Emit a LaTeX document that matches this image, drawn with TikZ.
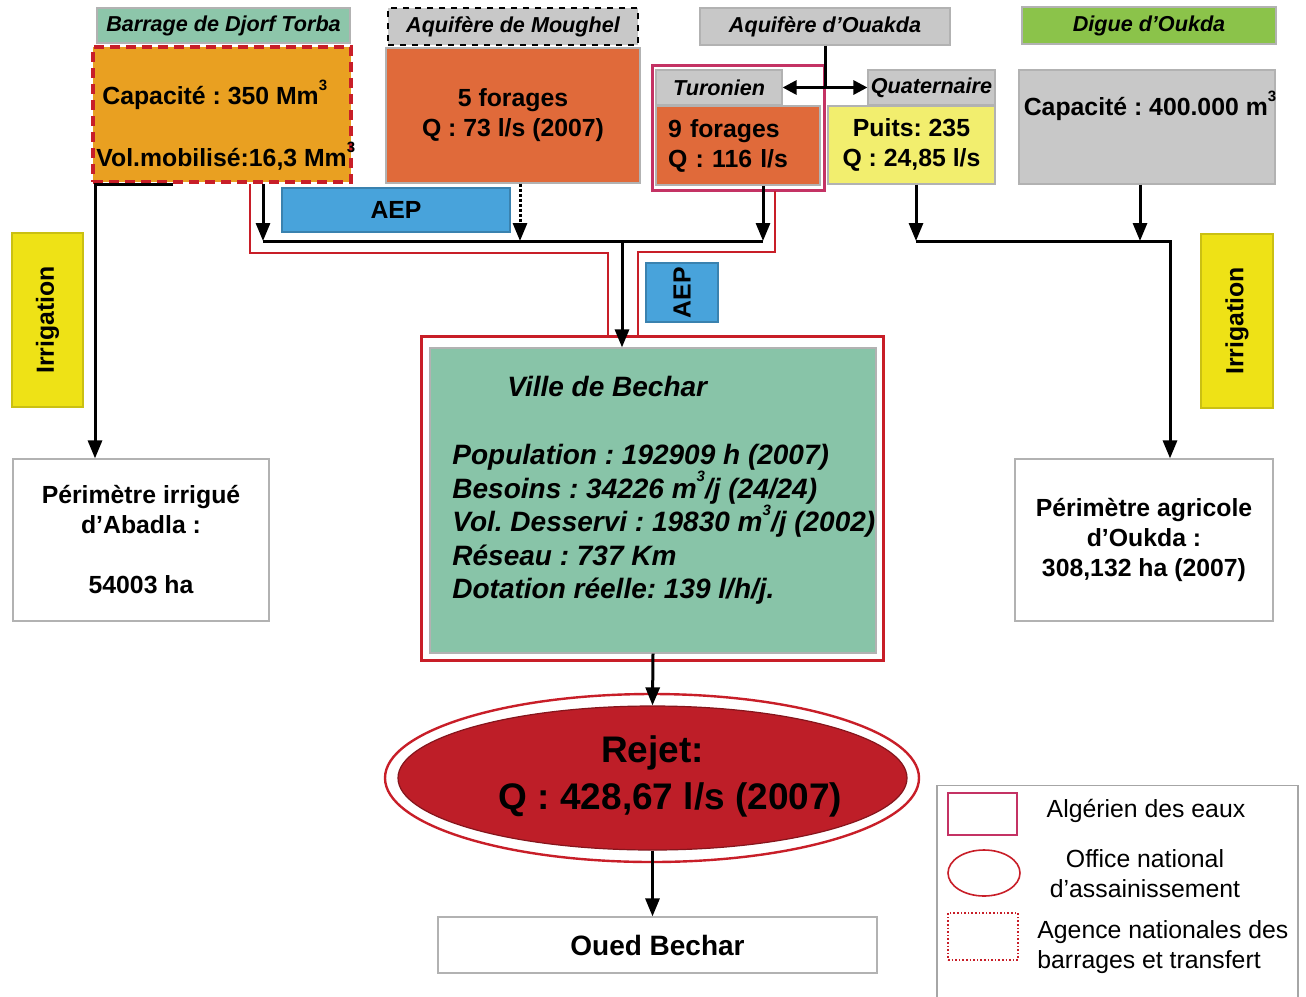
\documentclass[tikz,border=0pt]{standalone}
\usepackage{fontspec}
\setmainfont{Liberation Sans}
\usetikzlibrary{shapes.geometric, arrows.meta}
\frenchspacing

\definecolor{headteal}{RGB}{141,198,170}
\definecolor{cityteal}{RGB}{136,196,168}
\definecolor{headgray}{RGB}{200,200,200}
\definecolor{gold}{RGB}{233,160,33}
\definecolor{forange}{RGB}{224,106,58}
\definecolor{qyellow}{RGB}{242,238,110}
\definecolor{irryellow}{RGB}{238,226,22}
\definecolor{digreen}{RGB}{139,195,74}
\definecolor{aepblue}{RGB}{72,163,219}
\definecolor{anbtred}{RGB}{200,30,40}
\definecolor{adepink}{RGB}{196,50,100}
\definecolor{rejetred}{RGB}{190,30,40}

\newcommand{\txtbody}{\fontsize{12.4pt}{15pt}\selectfont\bfseries}
\newcommand{\txthead}{\fontsize{10.8pt}{13pt}\selectfont\bfseries\itshape}
\newcommand{\txtcity}{\fontsize{14pt}{16.75pt}\selectfont\bfseries\itshape}
\newcommand{\txtoued}{\fontsize{14pt}{16.75pt}\selectfont\bfseries}
\newcommand{\txtrejet}{\fontsize{18.5pt}{23.5pt}\selectfont\bfseries}
\newcommand{\txtlegend}{\fontsize{12.4pt}{15pt}\selectfont}
\newcommand{\cubed}{\raisebox{1.1ex}{\fontsize{7.5pt}{7.5pt}\selectfont 3}}

\begin{document}
\begin{tikzpicture}[x=0.5pt,y=-0.5pt,
  box/.style={draw=black!30, line width=0.6pt, inner sep=0pt, font=\txtbody, align=center},
  head/.style={box, font=\txthead},
  line/.style={line width=1.5pt},
  flow/.style={line, -{Triangle[length=9pt,width=7pt]}},
  twoway/.style={line, {Triangle[length=7pt,width=7pt]}-{Triangle[length=7pt,width=7pt]}},
  redline/.style={draw=anbtred, line width=1.2pt}]
\path[use as bounding box, fill=white] (0,0) rectangle (1306,996);

\node[head, fill=headteal, minimum width=126.5pt, minimum height=17.5pt] (barhead) at (223.5,25.5) {Barrage de Djorf Torba};
\node[box, fill=gold, draw=anbtred, dash pattern=on 5pt off 3pt, line width=2pt, minimum width=129pt, minimum height=67.5pt] (barbox) at (222,114.5) {};
\node[font=\txtbody, align=left, anchor=west, inner sep=0pt] (bartext) at (96,125) {\hspace*{3pt}Capacité : 350 Mm\cubed\\[15pt]Vol.mobilisé:16,3 Mm\cubed};

\node[head, fill=headgray, draw=black, dashed, line width=1.2pt, minimum width=125pt, minimum height=18.5pt] (mouhead) at (513,26.5) {Aquifère de Moughel};
\node[box, fill=forange, minimum width=127pt, minimum height=67.5pt] (moubox) at (513,115.5) {5 forages\\Q : 73 l/s (2007)};

\node[head, fill=headgray, minimum width=125pt, minimum height=18.5pt] (ouahead) at (825,26.5) {Aquifère d'Ouakda};
\node[draw=adepink, line width=1.5pt, minimum width=86pt, minimum height=62.5pt] (adeframe) at (738,127.5) {};
\node[head, fill=headgray, minimum width=63pt, minimum height=17.5pt] (turhead) at (719,87.5) {Turonien};
\node[box, fill=forange, minimum width=82pt, minimum height=39.5pt, text width=70pt, align=left] (turbox) at (738,145.5) {9 forages\\Q : 116 l/s};
\node[head, fill=headgray, minimum width=63.5pt, minimum height=17.5pt] (quahead) at (931.5,87.5) {Quaternaire};
\node[box, fill=qyellow, minimum width=83.5pt, minimum height=39pt] (quabox) at (911.5,145) {Puits: 235\\Q : 24,85 l/s};

\node[head, fill=digreen, minimum width=127pt, minimum height=18.5pt] (dighead) at (1149,25.5) {Digue d'Oukda};
\node[box, fill=headgray, minimum width=128pt, minimum height=57pt] (digbox) at (1147,127) {};
\node[font=\txtbody, inner sep=0pt] (digtext) at (1150,106) {Capacité : 400.000 m\cubed};

\node[box, fill=irryellow, draw=irryellow!85!black, minimum width=87pt, minimum height=35.5pt, rotate=90] (irrleft) at (47.5,320) {Irrigation};
\node[box, fill=irryellow, draw=irryellow!85!black, minimum width=87pt, minimum height=36pt, rotate=90] (irrright) at (1237,321) {Irrigation};
\node[box, fill=aepblue, draw=aepblue!80!black, minimum width=114pt, minimum height=22pt] (aepone) at (396,210) {AEP};
\node[box, fill=aepblue, draw=aepblue!80!black, minimum width=29.5pt, minimum height=36pt, rotate=90] (aeptwo) at (682,292.5) {AEP};

\node[draw=anbtred, line width=1.5pt, minimum width=231pt, minimum height=162pt] (cityframe) at (652,498) {};
\node[box, fill=cityteal, minimum width=223pt, minimum height=152.5pt] (city) at (653,500.5) {};
\node[font=\txtcity, align=left, anchor=north west, inner sep=0pt] (citytext) at (452,376) {\hspace*{27.5pt}Ville de Bechar\\[17.25pt]Population : 192909 h (2007)\\Besoins : 34226 m\cubed/j (24/24)\\Vol. Desservi : 19830 m\cubed/j (2002)\\Réseau : 737 Km\\Dotation réelle: 139 l/h/j.};

\node[ellipse, draw=anbtred, line width=1.2pt, minimum width=267pt, minimum height=84pt] (rejetframe) at (652,778) {};
\node[ellipse, fill=rejetred, draw=rejetred!70!black, line width=0.6pt, minimum width=254.5pt, minimum height=72pt] (rejet) at (652.5,778) {};
\node[font=\txtrejet, align=center, inner sep=0pt] (rejettext) at (652.5,776) {Rejet:\\\hspace*{18pt}Q : 428,67 l/s (2007)};
\node[box, minimum width=219.5pt, minimum height=28pt, font=\txtoued] (oued) at (657.5,945) {Oued Bechar};

\node[box, minimum width=128pt, minimum height=81pt] (abadla) at (141,540) {Périmètre irrigué\\d'Abadla :\\[15pt]54003 ha};
\node[box, minimum width=129pt, minimum height=81pt] (oukda) at (1144,540) {Périmètre agricole\\d'Oukda :\\308,132 ha (2007)};

\node[draw=black!35, line width=0.8pt, minimum width=180.5pt, minimum height=107pt] (legend) at (1117.5,892.5) {};
\node[draw=adepink, line width=1.2pt, minimum width=34.5pt, minimum height=21pt] (legade) at (982.5,814) {};
\node[font=\txtlegend] (legadetxt) at (1146,811) {Algérien des eaux};
\node[ellipse, draw=anbtred, line width=0.8pt, minimum width=36pt, minimum height=23pt] (legona) at (984,873) {};
\node[font=\txtlegend, align=center] (legonatxt) at (1145,874) {Office national\\d'assainissement};
\node[draw=anbtred, densely dotted, line width=0.8pt, minimum width=35pt, minimum height=23.5pt] (leganbt) at (983,936.5) {};
\node[font=\txtlegend, align=left, anchor=west, inner sep=0pt] (leganbttxt) at (1037,947) {Agence nationales des\\barrages et transfert};

\draw[redline] (250,184) |- (608,253) -- (608,337);
\draw[redline] (775,191) |- (638,252) -- (638,337);

\draw[line] (ouahead.south) -- (ouahead.south |- turhead.east);
\draw[twoway] (turhead.east) -- (quahead.west);
\draw[flow] (barbox.south west) ++(82,0) -- ([xshift=2pt]barbox.south west) -- ([xshift=2pt]barbox.south west |- abadla.north);

\coordinate (colL) at (263,241);
\coordinate (colM) at (520,241);
\coordinate (colC) at (622,241);
\coordinate (colR) at (763,241);
\draw[flow] (colL |- barbox.south) -- (colL);
\draw[flow, densely dotted] (colM |- moubox.south) -- (colM);
\draw[flow] (colR |- turbox.south) -- (colR);
\draw[line] (colL) -- (colR);
\draw[flow] (colC) -- (colC |- city.north);

\coordinate (colQ) at (916,241);
\coordinate (colD) at (1140,241);
\coordinate (colE) at (1170,241);
\draw[flow] (colQ |- quabox.south) -- (colQ);
\draw[flow] (colD |- digbox.south) -- (colD);
\draw[flow] (colQ) -- (colE) -- (colE |- oukda.north);

\draw[flow] (city.south) -- (rejet.north);
\draw[flow] (rejet.south) -- (rejet.south |- oued.north);
\end{tikzpicture}
\end{document}
